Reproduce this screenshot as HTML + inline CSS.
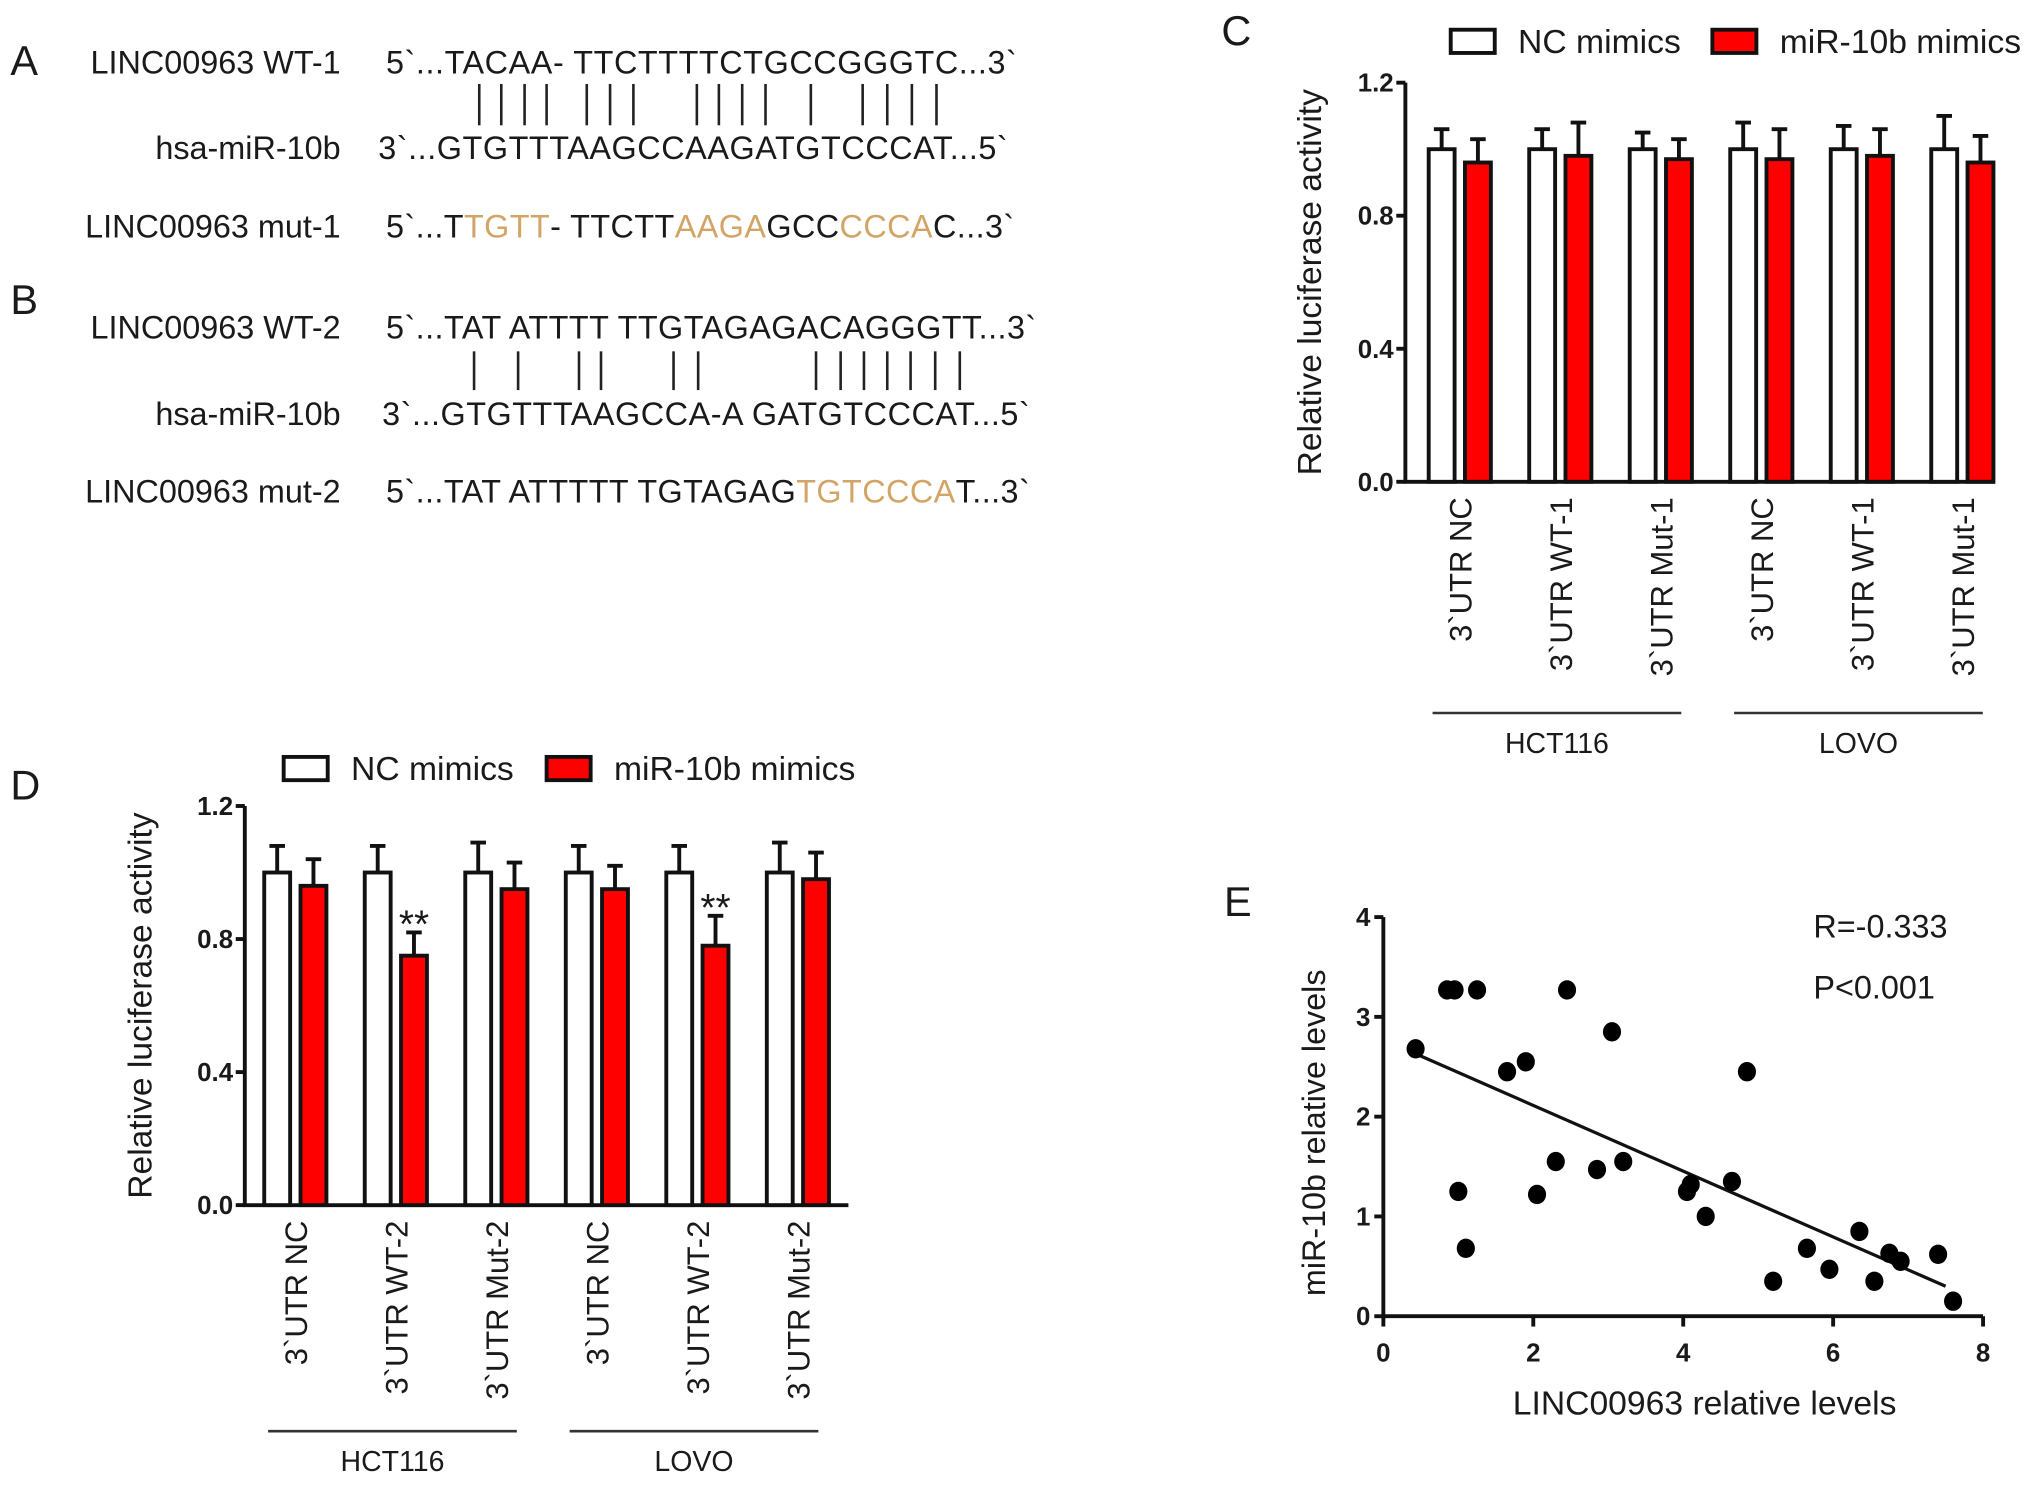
<!DOCTYPE html>
<html><head><meta charset="utf-8"><style>
html,body{margin:0;padding:0;background:#fff}
svg{display:block}
text{font-family:"Liberation Sans",Arial,sans-serif;fill:#1a1a1a}
.tick{font-weight:bold;font-size:20px}
.seq{font-size:25px}
</style></head><body>
<svg id="fig" width="2031" height="1488" viewBox="0 0 1568 1152" preserveAspectRatio="none" xmlns="http://www.w3.org/2000/svg">
<g id="panelAB">
<text x="8" y="58" font-size="32">A</text>
<text x="8" y="243" font-size="32">B</text>
<text class="seq" x="263" y="57" text-anchor="end">LINC00963 WT-1</text>
<text class="seq" x="298" y="57" textLength="487">5`...TACAA- TTCTTTTCTGCCGGGTC...3`</text>
<text class="seq" x="263" y="123" text-anchor="end">hsa-miR-10b</text>
<text class="seq" x="292" y="123" textLength="486">3`...GTGTTTAAGCCAAGATGTCCCAT...5`</text>
<text class="seq" x="263" y="184" text-anchor="end">LINC00963 mut-1</text>
<text class="seq" x="298" y="184" textLength="485">5`...T<tspan fill="#d2a566">TGTT</tspan>- TTCTT<tspan fill="#d2a566">AAGA</tspan>GCC<tspan fill="#d2a566">CCCA</tspan>C...3`</text>
<text class="seq" x="263" y="262" text-anchor="end">LINC00963 WT-2</text>
<text class="seq" x="298" y="262" textLength="502">5`...TAT ATTTT TTGTAGAGACAGGGTT...3`</text>
<text class="seq" x="263" y="329" text-anchor="end">hsa-miR-10b</text>
<text class="seq" x="295" y="329" textLength="500">3`...GTGTTTAAGCCA-A GATGTCCCAT...5`</text>
<text class="seq" x="263" y="389" text-anchor="end">LINC00963 mut-2</text>
<text class="seq" x="298" y="389" textLength="497">5`...TAT ATTTTT TGTAGAG<tspan fill="#d2a566">TGTCCCA</tspan>T...3`</text>
<g id="pairsA" stroke="#222" stroke-width="2"></g>
<g id="pairsB" stroke="#222" stroke-width="2"></g>
</g>
<text x="943" y="35" font-size="32">C</text>
<text x="8" y="619" font-size="32">D</text>
<text x="945" y="709" font-size="32">E</text>
<g id="chartC"></g>
<g id="chartD"></g>
<g id="chartE"></g>
</svg>
<script>
const NS="http://www.w3.org/2000/svg";
function mk(p,tag,at,txt){const e=document.createElementNS(NS,tag);for(const k in at)e.setAttribute(k,at[k]);if(txt!==undefined)e.textContent=txt;p.appendChild(e);return e;}

const pairXA=[370,387,405,422,453,471,489,538,555,573,591,626,666,685,704,723];
const pairXB=[366,400,447,464,520,539,630,649,667,685,703,722,741];
pairXA.forEach(x=>{const l=mk(document.getElementById('pairsA'),'line',{x1:x,x2:x,y1:65,y2:97});

});
pairXB.forEach(x=>{const l=mk(document.getElementById('pairsB'),'line',{x1:x,x2:x,y1:272,y2:302});

});

// Chart C data
const catsC=["3`UTR NC","3`UTR WT-1","3`UTR Mut-1","3`UTR NC","3`UTR WT-1","3`UTR Mut-1"];
const ncC=[1.0,1.0,1.0,1.0,1.0,1.0];
const ncErrC=[0.06,0.06,0.05,0.08,0.07,0.10];
const mirC=[0.96,0.98,0.97,0.97,0.98,0.96];
const mirErrC=[0.07,0.10,0.06,0.09,0.08,0.08];
const sigC=["","","","","",""];
// Chart D data
const catsD=["3`UTR NC","3`UTR WT-2","3`UTR Mut-2","3`UTR NC","3`UTR WT-2","3`UTR Mut-2"];
const ncD=[1.0,1.0,1.0,1.0,1.0,1.0];
const ncErrD=[0.08,0.08,0.09,0.08,0.08,0.09];
const mirD=[0.96,0.75,0.95,0.95,0.78,0.98];
const mirErrD=[0.08,0.07,0.08,0.07,0.09,0.08];
const sigD=["","**","","","**",""];
const yTicksBar=[0.0,0.4,0.8,1.2];
const groupsBar=["HCT116","LOVO"];

function barChart(g,o,cats,nc,ncErr,mir,mirErr,sig){
  const y=v=>o.y0-v/1.2*(o.y0-o.y1);
  const ax=mk(g,'path',{d:`M${o.ax} ${o.y1}V${o.y0}H${o.xEnd}`,fill:'none',stroke:'#111','stroke-width':3});
  
  
  yTicksBar.forEach(t=>{
    const tl=mk(g,'line',{x1:o.ax-7,x2:o.ax,y1:y(t),y2:y(t),stroke:'#111','stroke-width':3});
    
    
    const tx=mk(g,'text',{x:o.ax-9,y:y(t)+7,'text-anchor':'end',class:'tick'},t.toFixed(1));
    
    
  });
  const yl=mk(g,'text',{transform:`translate(${o.ylx},${(o.y0+o.y1)/2}) rotate(-90)`,'text-anchor':'middle','font-size':26},'Relative luciferase activity');
  
  
  const bw=20,gap=8;
  cats.forEach((c,i)=>{
    const x0=o.first+i*o.step;
    [[nc[i],ncErr[i],'#fff',x0,'nc'],[mir[i],mirErr[i],'#f00',x0+bw+gap,'mir']].forEach(([v,e,f,x,s])=>{
      const eb=mk(g,'path',{d:`M${x+bw/2} ${y(v)}V${y(v+e)}M${x+bw/2-6} ${y(v+e)}H${x+bw/2+6}`,stroke:'#111','stroke-width':3,fill:'none'});
      
      
      const r=mk(g,'rect',{x:x,y:y(v),width:bw,height:y(0)-y(v),fill:f,stroke:'#111','stroke-width':3});
      
      
    });
    if(sig[i]){const st=mk(g,'text',{x:x0+bw+gap+bw/2,y:y(mir[i]+mirErr[i])+4,'text-anchor':'middle','font-size':30},sig[i]);
      
      }
    const cx=x0+bw+gap/2;
    const lb=mk(g,'text',{transform:`translate(${cx+9},${o.y0+12}) rotate(-90)`,'text-anchor':'end','font-size':24},c);
    
    
  });
  groupsBar.forEach((gn,k)=>{
    const xa=o.first+k*3*o.step+3, xb=xa+192;
    const ln=mk(g,'line',{x1:xa,x2:xb,y1:o.gy,y2:o.gy,stroke:'#333','stroke-width':2});
    
    
    const gt=mk(g,'text',{x:(xa+xb)/2,y:o.gy+31,'text-anchor':'middle','font-size':22},gn);
    
    
  });
  const l1=mk(g,'rect',{x:o.lx,y:o.ly,width:34,height:18,fill:'#fff',stroke:'#111','stroke-width':3});
  
  
  const t1=mk(g,'text',{x:o.lx+52,y:o.ly+18,'font-size':26},'NC mimics');
  
  
  const l2=mk(g,'rect',{x:o.lx2,y:o.ly,width:34,height:18,fill:'#f00',stroke:'#111','stroke-width':3});
  
  
  const t2=mk(g,'text',{x:o.lx2+52,y:o.ly+18,'font-size':26},'miR-10b mimics');
  
  
}
barChart(document.getElementById('chartC'),{ax:1085,y0:373,y1:64,xEnd:1540,first:1103,step:77.6,ylx:1020,gy:552,lx:1120,lx2:1322,ly:23},catsC,ncC,ncErrC,mirC,mirErrC,sigC);
barChart(document.getElementById('chartD'),{ax:189,y0:933,y1:624,xEnd:655,first:204,step:77.6,ylx:117,gy:1108,lx:219,lx2:422,ly:586},catsD,ncD,ncErrD,mirD,mirErrD,sigD);

// Chart E data
const xsE=[0.43,0.85,0.95,1.25,2.45,3.05,1.65,1.9,4.85,1.0,1.1,2.05,2.3,2.85,3.2,4.05,4.1,4.3,4.65,5.2,5.65,5.95,6.35,6.55,6.75,6.9,7.4,7.6];
const ysE=[2.68,3.27,3.27,3.27,3.27,2.85,2.45,2.55,2.45,1.25,0.68,1.22,1.55,1.47,1.55,1.25,1.32,1.0,1.35,0.35,0.68,0.47,0.85,0.35,0.63,0.55,0.62,0.15];
const fitE=[[0.43,2.63],[7.5,0.3]];
const xTicksE=[0,2,4,6,8];
const yTicksE=[0,1,2,3,4];
(function(){
  const g=document.getElementById('chartE');
  const X0=1068,X1=1531,Y0=1019,Y1=710;
  const sx=v=>X0+v/8*(X1-X0), sy=v=>Y0-v/4*(Y0-Y1);
  const ax=mk(g,'path',{d:`M${X0} ${Y1}V${Y0}H${X1}`,fill:'none',stroke:'#111','stroke-width':3});
  
  
  xTicksE.forEach(t=>{
    const l=mk(g,'line',{x1:sx(t),x2:sx(t),y1:Y0,y2:Y0+8,stroke:'#111','stroke-width':3});
    
    
    const tx=mk(g,'text',{x:sx(t),y:Y0+35,'text-anchor':'middle',class:'tick'},t);
    
    
  });
  yTicksE.forEach(t=>{
    const l=mk(g,'line',{x1:X0-7,x2:X0,y1:sy(t),y2:sy(t),stroke:'#111','stroke-width':3});
    
    
    const tx=mk(g,'text',{x:X0-10,y:sy(t)+7,'text-anchor':'end',class:'tick'},t);
    
    
  });
  const fl=mk(g,'line',{x1:sx(fitE[0][0]),y1:sy(fitE[0][1]),x2:sx(fitE[1][0]),y2:sy(fitE[1][1]),stroke:'#111','stroke-width':2.5});
  
  
  xsE.forEach((v,i)=>{
    const c=mk(g,'ellipse',{cx:sx(v),cy:sy(ysE[i]),rx:7,ry:7.5,fill:'#000'});
    
    
  });
  const xt=mk(g,'text',{x:1316,y:1095,'text-anchor':'middle','font-size':26},'LINC00963 relative levels');
  
  
  const yt=mk(g,'text',{transform:`translate(1023,877) rotate(-90)`,'text-anchor':'middle','font-size':25},'miR-10b relative levels');
  
  
  const r=mk(g,'text',{x:1400,y:726,'font-size':25},'R=-0.333');
  
  
  const p=mk(g,'text',{x:1400,y:773,'font-size':25},'P<0.001');
  
  
})();
</script>
</body></html>
